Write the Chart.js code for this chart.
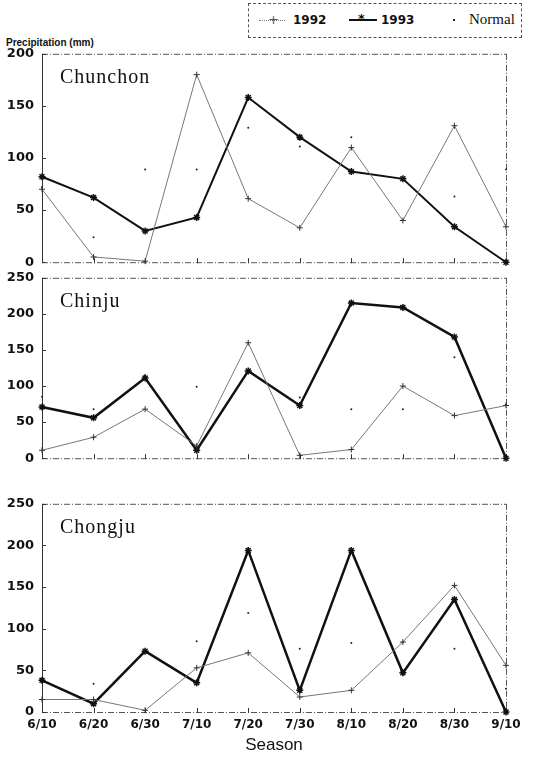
<!DOCTYPE html>
<html lang="en">
<head>
<meta charset="UTF-8">
<title>Precipitation by season, 1992 / 1993 / Normal</title>
<script src="https://cdn.jsdelivr.net/npm/chart.js"></script>
<style>
  body { margin: 0; background: #fff; }
  #wrap { position: relative; width: 550px; height: 759px; overflow: hidden; }
  #wrap canvas { position: absolute; left: 0; }
  .legend {
    position: absolute; left: 248px; top: 3px; width: 274px; height: 35px;
    border: 1px dashed #555; box-sizing: border-box;
    font-family: 'DejaVu Sans', sans-serif; font-weight: bold; font-size: 12px; color: #111;
  }
  .legend span { position: absolute; }
  .ylab {
    position: absolute; left: 6px; top: 37px;
    font-family: 'Liberation Sans', Arial, sans-serif; font-weight: bold; font-size: 10px; color: #111;
  }
</style>
</head>
<body>
<div id="wrap">
  <div class="legend">
    <span style="left:10px; top:16px; width:26px; border-top:1px dotted #777;"></span>
    <span style="left:19px; top:8px; font-weight:normal; color:#555; font-size:13px;">+</span>
    <span style="left:44px; top:9px;">1992</span>
    <span style="left:100px; top:15px; width:28px; border-top:2px solid #111;"></span>
    <span style="left:109px; top:7px; font-size:13px;">*</span>
    <span style="left:132px; top:9px;">1993</span>
    <span style="left:204px; top:15px; width:2px; height:2px; background:#222;"></span>
    <span style="left:220px; top:7px; font-family:'Liberation Serif',serif; font-weight:normal; font-size:15px;">Normal</span>
  </div>
  <div class="ylab">Precipitation (mm)</div>
  <canvas id="chunchon" width="550" height="240" style="top:38px"></canvas>
  <canvas id="chinju" width="550" height="212" style="top:262px"></canvas>
  <canvas id="chongju" width="550" height="271" style="top:488px"></canvas>
</div>

<script>
// seasons (10-day periods)
const seasons = ['6/10', '6/20', '6/30', '7/10', '7/20', '7/30', '8/10', '8/20', '8/30', '9/10'];

// Chunchon
const chunchon1992   = [70, 5, 1, 180, 61, 33, 110, 40, 131, 34];
const chunchon1993   = [82, 62, 30, 43, 158, 120, 87, 80, 34, 0];
const chunchonNormal = [72, 24, 89, 89, 129, 111, 120, 80, 63, 89];

// Chinju
const chinju1992   = [11, 29, 68, 17, 160, 4, 12, 100, 59, 73];
const chinju1993   = [71, 56, 111, 11, 121, 73, 215, 209, 168, 0];
const chinjuNormal = [85, 68, 115, 99, 121, 84, 68, 68, 140, 74];

// Chongju
const chongju1992   = [15, 15, 2, 53, 71, 18, 26, 84, 152, 56];
const chongju1993   = [38, 10, 73, 35, 194, 26, 194, 47, 135, 0];
const chongjuNormal = [38, 34, 73, 85, 119, 76, 83, 84, 76, 28];

const yTicksTop = [0, 50, 100, 150, 200];
const yTicksLow = [0, 50, 100, 150, 200, 250];

// frame + inward tick marks + station name
const framePlugin = {
  id: 'frame',
  beforeDatasetsDraw(chart) {
    const { ctx, chartArea: a } = chart;
    ctx.save();
    ctx.strokeStyle = '#555';
    ctx.lineWidth = 1;
    ctx.setLineDash([6, 2, 1, 2]);
    ctx.beginPath();
    ctx.moveTo(a.left, a.top + 0.5); ctx.lineTo(a.right, a.top + 0.5);
    ctx.moveTo(a.left, a.bottom + 0.5); ctx.lineTo(a.right, a.bottom + 0.5);
    ctx.moveTo(a.right + 0.5, a.top); ctx.lineTo(a.right + 0.5, a.bottom);
    ctx.stroke();
    ctx.setLineDash([]);
    ctx.strokeStyle = '#333';
    ctx.beginPath();
    ctx.moveTo(a.left + 0.5, a.top); ctx.lineTo(a.left + 0.5, a.bottom);
    // x ticks
    const xs = chart.scales.x;
    xs.ticks.forEach((t, i) => {
      const x = Math.round(xs.getPixelForTick(i)) + 0.5;
      ctx.moveTo(x, a.bottom - 4); ctx.lineTo(x, a.bottom + 1);
    });
    // y ticks
    const ys = chart.scales.y;
    ys.ticks.forEach(t => {
      const y = Math.round(ys.getPixelForValue(t.value)) + 0.5;
      ctx.moveTo(a.left, y); ctx.lineTo(a.left + 4, y);
    });
    ctx.stroke();
    ctx.restore();
  },
  afterDraw(chart, args, opts) {
    const { ctx, chartArea: a } = chart;
    ctx.save();
    ctx.fillStyle = '#111';
    ctx.font = '20px "Liberation Serif", serif';
    ctx.letterSpacing = '1px';
    ctx.textBaseline = 'middle';
    ctx.fillText(opts.name, a.left + 18, a.top + 24);
    ctx.restore();
  }
};

function makePanel(id, name, d92, d93, dn, yMax, yTicks, showX, thick) {
  const tickFont = { family: 'DejaVu Sans', weight: 'bold', size: 13 };
  return new Chart(document.getElementById(id), {
    type: 'line',
    data: {
      labels: seasons,
      datasets: [
        {
          label: '1992', data: d92,
          borderColor: '#777', borderWidth: 1,
          pointStyle: 'cross', pointRadius: 3, pointBorderColor: '#333', pointBorderWidth: 1,
          tension: 0, clip: false
        },
        {
          label: '1993', data: d93,
          borderColor: '#111', borderWidth: thick,
          pointStyle: 'star', pointRadius: 3.5, pointBorderColor: '#111', pointBorderWidth: 1.5,
          tension: 0, clip: false
        },
        {
          label: 'Normal', data: dn, showLine: false,
          pointStyle: 'circle', pointRadius: 1, pointBackgroundColor: '#222', pointBorderWidth: 0,
          clip: false
        }
      ]
    },
    options: {
      responsive: false,
      animation: false,
      events: [],
      layout: { padding: { top: 15, bottom: showX ? 0 : 10, left: 0, right: 44 } },
      plugins: { legend: { display: false }, tooltip: { enabled: false }, frame: { name: name } },
      scales: {
        x: {
          display: showX,
          offset: false,
          grid: { display: false, drawTicks: false },
          border: { display: false },
          ticks: { color: '#111', font: { family: 'DejaVu Sans', weight: 'bold', size: 12 }, padding: 6, maxRotation: 0, autoSkip: false },
          title: {
            display: showX, text: 'Season', color: '#111',
            font: { family: 'Liberation Sans', size: 17 }, padding: { top: 0, bottom: 3 }
          },
          afterFit: s => { s.height = showX ? 47 : 0; }
        },
        y: {
          min: 0, max: yMax,
          grid: { display: false, drawTicks: false },
          border: { display: false },
          afterBuildTicks: s => { s.ticks = yTicks.map(v => ({ value: v })); },
          ticks: { color: '#111', font: tickFont, padding: 8 },
          afterFit: s => { s.width = 42; }
        }
      }
    },
    plugins: [framePlugin]
  });
}

makePanel('chunchon', 'Chunchon', chunchon1992, chunchon1993, chunchonNormal, 200, yTicksTop, false, 2);
makePanel('chinju', 'Chinju', chinju1992, chinju1993, chinjuNormal, 250, yTicksLow, false, 2.5);
makePanel('chongju', 'Chongju', chongju1992, chongju1993, chongjuNormal, 250, yTicksLow, true, 2.5);
</script>
</body>
</html>
